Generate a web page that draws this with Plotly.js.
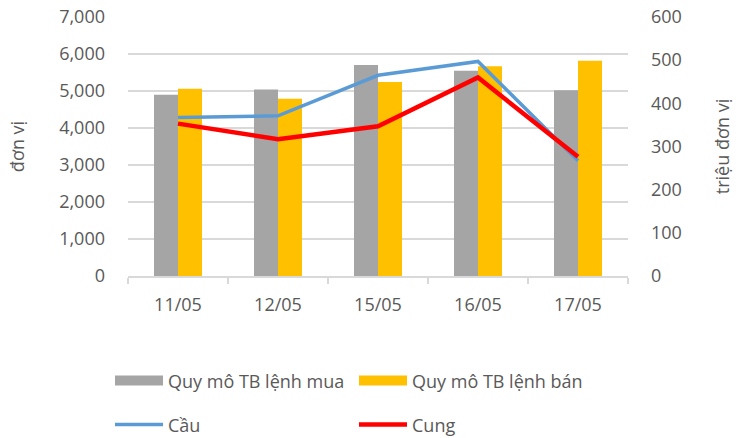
<!DOCTYPE html>
<html><head><meta charset="utf-8">
<script src="https://cdn.plot.ly/plotly-3.0.1.min.js"></script>
<style>body{margin:0;background:#fff}#c{width:740px;height:438px}</style>
</head><body><div id="c"></div>
<script>
var categories = ["11/05","12/05","15/05","16/05","17/05"];
var buySize = [4900, 5040, 5700, 5550, 5020];
var sellSize = [5060, 4790, 5240, 5670, 5820];
var demand = [367, 371, 465, 497, 267];
var supply = [353, 317, 347, 460, 276];
var seriesNames = ["Quy mô TB lệnh mua", "Quy mô TB lệnh bán", "Cầu", "Cung"];
var seriesColors = ["#a5a5a5", "#ffc000", "#5b9bd5", "#ff0000"];

var font = {family: "Open Sans, Noto Sans, sans-serif", size: 18, color: "#595959"};
var traces = [
  {type:"bar", name:seriesNames[0], x:categories, y:buySize, marker:{color:seriesColors[0]}, showlegend:false},
  {type:"bar", name:seriesNames[1], x:categories, y:sellSize, marker:{color:seriesColors[1]}, showlegend:false},
  // legend-only swatches for the bar series (wide rectangles as in the reference)
  {type:"scatter", mode:"lines", name:seriesNames[0], x:[null], y:[null], line:{color:seriesColors[0], width:13}, legend:"legend", hoverinfo:"skip"},
  {type:"scatter", mode:"lines", name:seriesNames[1], x:[null], y:[null], line:{color:seriesColors[1], width:13}, legend:"legend", hoverinfo:"skip"},
  {type:"scatter", mode:"lines", name:seriesNames[2], x:categories, y:demand, yaxis:"y2", line:{color:seriesColors[2], width:3.5}, legend:"legend2"},
  {type:"scatter", mode:"lines", name:seriesNames[3], x:categories, y:supply, yaxis:"y2", line:{color:seriesColors[3], width:4.5}, legend:"legend2"}
];
var legBase = {orientation:"h", xref:"paper", yref:"paper", xanchor:"left", yanchor:"middle", itemwidth:48,
               entrywidth:181, entrywidthmode:"pixels", font:font, traceorder:"normal", bgcolor:"rgba(0,0,0,0)"};
var layout = {
  width:740, height:438,
  margin:{l:128, r:112, t:17, b:162, autoexpand:false},
  paper_bgcolor:"#fff", plot_bgcolor:"#fff",
  font:font,
  barmode:"group", bargap:0.52, bargroupgap:0,
  showlegend:true,
  legend:Object.assign({}, legBase, {x:-0.036, y:-0.405}),
  legend2:Object.assign({}, legBase, {x:-0.036, y:-0.575}),
  xaxis:{type:"category", showline:true, linecolor:"#d9d9d9", linewidth:1.5, ticks:"outside", tickson:"boundaries",
         ticklen:6, tickcolor:"#d9d9d9", tickwidth:1.5, showgrid:false, tickfont:font, automargin:false, ticklabelstandoff:12},
  yaxis:{range:[0,7000], dtick:1000, tickformat:",d", gridcolor:"#d9d9d9", gridwidth:1.5, zeroline:false,
         showline:false, ticks:"", tickfont:font, ticklabelstandoff:22, automargin:false,
         title:{text:"đơn vị", font:font, standoff:29}},
  yaxis2:{range:[0,600], dtick:100, overlaying:"y", side:"right", showgrid:false, zeroline:false,
          showline:false, tickfont:font, ticklabelstandoff:22, automargin:false,
          title:{text:"triệu đơn vị", font:font, standoff:35}}
};
Plotly.newPlot("c", traces, layout, {displayModeBar:false});
</script></body></html>
